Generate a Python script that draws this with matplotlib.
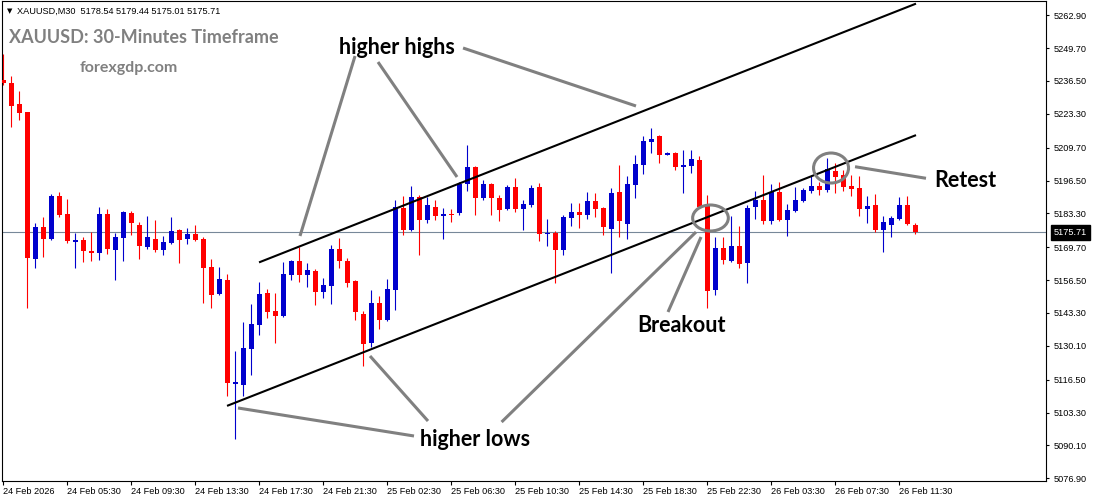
import matplotlib.pyplot as plt
from matplotlib.patches import Ellipse
from matplotlib.transforms import blended_transform_factory
import numpy as np

plt.rcParams['font.family'] = ['Liberation Sans', 'DejaVu Sans']

# XAUUSD M30 candles
opens = [5236.89, 5235.81, 5227.25, 5223.92, 5164.87, 5177.84, 5173.02, 5190.30, 5183.07, 5171.94,
         5172.62, 5168.20, 5167.52, 5183.07, 5168.73, 5173.55, 5183.47, 5178.65, 5169.93, 5173.02,
         5168.73, 5171.42, 5176.76, 5173.02, 5175.03, 5173.02, 5161.78, 5150.93, 5156.55, 5114.90,
         5114.38, 5128.96, 5138.48, 5151.33, 5144.22, 5142.09, 5158.68, 5164.19, 5158.68, 5160.17,
         5151.85, 5154.26, 5169.01, 5164.19, 5156.15, 5142.90, 5131.37, 5147.31, 5140.60, 5152.54,
         5185.48, 5176.64, 5189.90, 5180.66, 5185.88, 5182.26, 5183.07, 5183.47, 5195.12, 5201.95,
         5189.49, 5195.12, 5189.49, 5185.07, 5193.91, 5185.07, 5186.68, 5193.91, 5175.03, 5175.43,
         5168.60, 5181.46, 5183.87, 5182.66, 5188.29, 5185.48, 5177.04, 5191.90, 5179.05, 5194.72,
         5202.75, 5211.99, 5214.40, 5206.77, 5207.57, 5201.95, 5202.35, 5204.76, 5187.08, 5152.54,
         5169.41, 5164.19, 5170.21, 5163.38, 5185.88, 5188.69, 5180.25, 5191.90, 5180.66, 5184.27,
         5188.29, 5192.31, 5194.31, 5192.71, 5200.34, 5198.73, 5194.31, 5193.51, 5185.07, 5186.68,
         5176.64, 5178.65, 5181.06, 5186.68, 5178.54]
highs = [5247.34, 5238.50, 5232.48, 5224.10, 5179.33, 5181.86, 5190.98, 5191.90, 5189.09, 5175.55,
         5173.95, 5175.84, 5186.00, 5185.07, 5175.55, 5184.10, 5184.39, 5179.73, 5182.38, 5180.66,
         5174.35, 5181.86, 5177.16, 5177.44, 5178.77, 5173.71, 5164.99, 5161.78, 5158.96, 5128.03,
         5139.80, 5146.91, 5155.75, 5152.94, 5151.33, 5163.78, 5164.39, 5169.69, 5163.38, 5160.97,
         5157.36, 5170.61, 5173.43, 5165.39, 5156.55, 5144.22, 5152.54, 5150.13, 5156.96, 5188.69,
         5190.30, 5194.31, 5190.70, 5189.90, 5188.69, 5185.48, 5185.07, 5195.92, 5210.78, 5202.30,
         5196.72, 5195.50, 5190.70, 5194.72, 5197.53, 5188.69, 5194.72, 5195.52, 5181.06, 5176.24,
         5182.66, 5187.48, 5187.48, 5191.90, 5191.50, 5185.90, 5193.51, 5202.75, 5198.33, 5206.77,
         5214.40, 5217.61, 5214.80, 5207.97, 5207.97, 5208.78, 5208.78, 5206.36, 5190.70, 5173.83,
         5173.83, 5182.26, 5178.25, 5186.68, 5192.31, 5198.73, 5195.12, 5195.92, 5187.08, 5193.91,
         5193.51, 5198.73, 5195.92, 5205.56, 5203.55, 5200.74, 5198.73, 5198.33, 5190.30, 5191.10,
         5182.26, 5182.26, 5189.90, 5190.30, 5179.44]
lows = [5234.89, 5218.13, 5220.83, 5145.43, 5161.49, 5165.91, 5172.62, 5181.98, 5171.29, 5161.49,
        5163.66, 5164.19, 5164.59, 5167.12, 5156.55, 5164.19, 5174.63, 5164.99, 5169.01, 5167.92,
        5166.60, 5171.02, 5163.50, 5171.14, 5172.22, 5147.31, 5145.31, 5150.53, 5110.08, 5092.68,
        5110.08, 5118.39, 5134.46, 5141.29, 5131.37, 5141.69, 5156.67, 5155.87, 5153.86, 5146.63,
        5149.44, 5147.03, 5161.49, 5153.86, 5140.60, 5122.13, 5129.76, 5136.99, 5140.20, 5144.62,
        5174.63, 5176.30, 5166.60, 5179.33, 5180.66, 5173.02, 5179.85, 5182.66, 5192.31, 5182.54,
        5188.69, 5182.66, 5180.25, 5184.67, 5183.87, 5176.64, 5186.00, 5172.22, 5170.21, 5155.35,
        5166.60, 5178.25, 5177.44, 5181.06, 5181.86, 5174.63, 5159.37, 5173.83, 5173.02, 5189.49,
        5199.13, 5207.57, 5203.55, 5206.77, 5200.74, 5191.50, 5199.54, 5185.50, 5145.31, 5150.53,
        5162.98, 5163.78, 5161.37, 5155.35, 5181.06, 5179.05, 5179.05, 5180.30, 5174.23, 5183.87,
        5187.89, 5191.50, 5190.70, 5191.90, 5191.50, 5192.31, 5190.30, 5182.26, 5179.45, 5175.84,
        5167.80, 5173.83, 5180.66, 5178.65, 5175.01]
closes = [5235.57, 5226.57, 5223.76, 5165.51, 5177.84, 5173.02, 5190.30, 5182.66, 5172.34, 5172.62,
          5168.32, 5167.52, 5183.07, 5169.13, 5173.83, 5183.87, 5179.57, 5170.33, 5173.83, 5168.73,
          5171.82, 5176.24, 5172.74, 5175.03, 5172.62, 5161.49, 5150.53, 5156.96, 5115.30, 5115.46,
          5129.36, 5138.88, 5150.93, 5143.82, 5142.21, 5158.96, 5164.19, 5158.68, 5160.57, 5151.85,
          5154.55, 5169.01, 5164.31, 5155.47, 5143.82, 5130.96, 5147.31, 5140.60, 5152.94, 5185.76,
          5176.64, 5189.90, 5180.66, 5186.68, 5182.26, 5183.07, 5182.66, 5195.12, 5201.95, 5189.49,
          5195.12, 5189.49, 5184.67, 5193.91, 5185.07, 5187.08, 5193.51, 5175.03, 5175.31, 5168.60,
          5181.86, 5183.87, 5182.66, 5188.29, 5185.07, 5177.84, 5191.50, 5180.25, 5195.12, 5203.15,
          5212.39, 5213.19, 5206.77, 5207.57, 5201.95, 5202.75, 5205.16, 5185.88, 5152.14, 5169.41,
          5164.59, 5170.21, 5162.98, 5185.48, 5188.69, 5180.25, 5191.90, 5180.66, 5184.67, 5188.69,
          5192.71, 5194.31, 5192.71, 5201.14, 5197.93, 5193.91, 5193.11, 5185.07, 5186.28, 5176.64,
          5179.85, 5181.46, 5186.68, 5179.05, 5175.71]

last_price = 5175.71
header = "XAUUSD,M30  5178.54 5179.44 5175.01 5175.71"

tick_bars = [0, 8, 16, 24, 32, 40, 48, 56, 64, 72, 80, 88, 96, 104, 112]
tick_names = ["24 Feb 2026", "24 Feb 05:30", "24 Feb 09:30", "24 Feb 13:30", "24 Feb 17:30",
              "24 Feb 21:30", "25 Feb 02:30", "25 Feb 06:30", "25 Feb 10:30", "25 Feb 14:30",
              "25 Feb 18:30", "25 Feb 22:30", "26 Feb 03:30", "26 Feb 07:30", "26 Feb 11:30"]
price_ticks = [5262.90, 5249.70, 5236.50, 5223.30, 5209.70, 5196.50, 5183.30, 5169.70,
               5156.50, 5143.30, 5130.10, 5116.50, 5103.30, 5090.10, 5076.90]

# channel lines (bar index, price)
upper_channel = [(32.1, 5163.78), (113.98, 5267.42)]
lower_channel = [(28.1, 5106.14), (113.98, 5214.60)]

# grey pointer lines and circles
pointers = [
    [(43.98, 5246.53), (37.1, 5174.23)],
    [(46.85, 5244.12), (56.73, 5197.93)],
    [(57.48, 5249.75), (79.1, 5226.45)],
    [(29.35, 5105.14), (51.35, 5093.89)],
    [(45.85, 5126.02), (53.1, 5099.91)],
    [(62.3, 5099.5), (86.6, 5175.83)],
    [(83.1, 5143.70), (87.23, 5173.83)],
    [(106.48, 5202.06), (115.35, 5197.41)],
]
circles = [(88.41, 5181.46, 4.46, 10.44), (103.48, 5201.54, 4.375, 12.05)]
notes = [("higher highs", 49.19, 5247.22), ("higher lows", 59.04, 5089.87),
         ("Breakout", 84.76, 5135.79), ("Retest", 120.22, 5194.03)]

W, H = 1093, 501
fig = plt.figure(figsize=(W / 100, H / 100), dpi=100)
ax = fig.add_axes([2 / W, 20.5 / H, 1044 / W, 479.5 / H])

o = np.array(opens)
c = np.array(closes)
x = np.arange(len(o))
cols = np.where(c >= o, '#0000cd', '#ff0000')

ax.axhline(last_price, color='#778899', lw=0.8, zorder=0)
ax.vlines(x, lows, highs, colors=cols, lw=0.8, zorder=2)
ax.bar(x, np.maximum(np.abs(c - o), 0.45), bottom=np.minimum(o, c), width=0.62,
       color=cols, linewidth=0, zorder=3)

for seg in [upper_channel, lower_channel]:
    ax.plot([seg[0][0], seg[1][0]], [seg[0][1], seg[1][1]], color='black', lw=1.5, zorder=4)

for seg in pointers:
    ax.plot([seg[0][0], seg[1][0]], [seg[0][1], seg[1][1]], color='#808080', lw=2.2,
            solid_capstyle='butt', zorder=5)

for cx, cy, w, h in circles:
    ax.add_patch(Ellipse((cx, cy), w, h, fill=False, ec='#808080', lw=2.2, zorder=5))

for txt, tx, ty in notes:
    ax.text(tx, ty, txt, ha='center', va='baseline', fontsize=15.5, fontweight='bold',
            family=['Lato', 'DejaVu Sans'], color='black', zorder=6)

ax.set_xlim(-0.15, 130.35)
ax.set_ylim(5076.01, 5268.63)

ax.yaxis.tick_right()
ax.set_yticks(price_ticks)
ax.set_yticklabels([f"{v:.2f}" for v in price_ticks])
ax.set_xticks(tick_bars)
ax.set_xticklabels(tick_names, ha='left')
ax.tick_params(axis='y', direction='out', length=2.5, width=0.8, pad=3, labelsize=6.6)
ax.tick_params(axis='x', direction='out', length=3, width=0.8, pad=2, labelsize=6.6)
for s in ax.spines.values():
    s.set_linewidth(0.8)

trans = blended_transform_factory(ax.transAxes, ax.transData)
ax.text(1.0075, last_price, f"{last_price:.2f}", transform=trans, color='white', fontsize=6.6,
        va='center', ha='left', clip_on=False, zorder=10,
        bbox=dict(boxstyle='square,pad=0.3', fc='black', ec='black'))

fig.text(6.5 / W, 1 - 11 / H, "▼", fontsize=5, va='center', ha='left', family='DejaVu Sans')
fig.text(17.3 / W, 1 - 11 / H, header, fontsize=6.6, va='center', ha='left')
fig.text(9.3 / W, 1 - 43.3 / H, "XAUUSD: 30-Minutes Timeframe", fontsize=13, fontweight='bold',
         color='#808080', va='baseline', ha='left', family=['Lato', 'DejaVu Sans'])
fig.text(79.3 / W, 1 - 71.7 / H, "forexgdp.com", fontsize=11.5, fontweight='bold',
         color='#808080', va='baseline', ha='left', family=['Lato', 'DejaVu Sans'])

fig.savefig("out.png", dpi=100)
